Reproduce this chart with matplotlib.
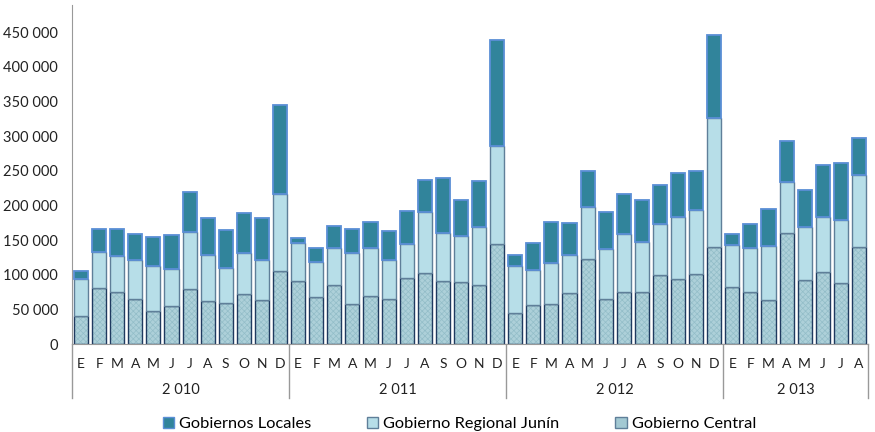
import numpy as np
import matplotlib.pyplot as plt
from matplotlib.patches import Patch

plt.rcParams['font.family'] = ['Lato', 'DejaVu Sans']
plt.rcParams['hatch.linewidth'] = 0.5

# Data
years = ['2 010', '2 011', '2 012', '2 013']
months_per_year = [12, 12, 12, 8]
month_letters = ['E', 'F', 'M', 'A', 'M', 'J', 'J', 'A', 'S', 'O', 'N', 'D']

central = [40.5, 81.4, 74.7, 65.0, 48.2, 54.4, 79.5, 62.6, 59.2, 72.7, 64.1, 106.0,
           91.0, 68.4, 85.3, 58.3, 68.9, 64.5, 95.9, 102.6, 90.6, 90.1, 85.7, 144.5,
           45.3, 56.4, 58.3, 74.2, 122.3, 64.5, 75.1, 74.7, 100.2, 93.4, 101.6, 140.2,
           81.9, 74.7, 63.6, 159.9, 92.5, 104.0, 88.2, 139.2]
regional_cum = [93.4, 132.0, 126.7, 121.0, 112.7, 108.4, 160.9, 128.1, 109.8, 131.5, 120.9, 215.8,
                146.4, 118.0, 138.2, 131.0, 138.2, 120.9, 144.5, 189.8, 159.4, 155.6, 168.6, 286.1,
                111.8, 106.5, 116.6, 128.6, 197.5, 136.8, 158.5, 147.4, 173.4, 182.6, 192.7, 326.1,
                142.1, 138.2, 141.6, 233.1, 168.1, 183.5, 178.2, 243.3]
total = [106.0, 165.7, 166.2, 158.0, 154.6, 156.6, 218.7, 181.1, 163.8, 188.3, 181.1, 344.4,
         152.2, 138.2, 170.0, 166.2, 175.8, 162.3, 191.2, 237.0, 239.4, 207.1, 234.6, 438.8,
         128.6, 145.5, 175.8, 173.9, 249.5, 189.8, 215.8, 207.1, 228.8, 246.1, 250.0, 445.1,
         158.5, 173.4, 194.6, 293.4, 222.5, 257.7, 260.6, 297.7]

central = np.array(central) * 1000
regional = np.array(regional_cum) * 1000 - central
locales = np.array(total) * 1000 - np.array(regional_cum) * 1000

n = len(central)
x = np.arange(n)
w = 0.78

fig = plt.figure(figsize=(8.75, 4.32), dpi=100)
ax = fig.add_axes([72 / 875, 1 - 344 / 432, (868 - 72) / 875, 339 / 432])

# Gobierno Central: subtle hatched fill, then dark outline
ax.bar(x, central, w, color='#ADD0D9', edgecolor='#93BDC8', hatch='xxxxxx', linewidth=0)
ax.bar(x, central, w, fill=False, edgecolor='#1F3A60', linewidth=1.0)
ax.bar(x, regional, w, bottom=central, color='#B7DEE8', edgecolor='#5F7F99', linewidth=1.0)
ax.bar(x, locales, w, bottom=central + regional, color='#31849B', edgecolor='#5B8FD6', linewidth=1.3)

ax.set_xlim(-0.5, n - 0.5)
ax.set_ylim(0, 489000)
ax.set_yticks(np.arange(0, 450001, 50000))
ax.set_yticklabels([f'{v:,}'.replace(',', ' ') for v in range(0, 450001, 50000)])
ax.tick_params(axis='y', length=0, labelsize=10.5, pad=10, colors='#222222')
ax.set_xticks([])

for s in ['top', 'right']:
    ax.spines[s].set_visible(False)
ax.spines['left'].set_color('#999999')
ax.spines['bottom'].set_color('#999999')

# Category labels (months + years)
trans = ax.get_xaxis_transform()
px = 1 / 339  # one pixel in axes-fraction
labels = []
for ny in months_per_year:
    labels += month_letters[:ny]
for i, lab in enumerate(labels):
    ax.text(i, -20 * px, lab, transform=trans, ha='center', va='center', fontsize=10, color='#222222')

start = 0
bounds = [-0.5]
for yr, ny in zip(years, months_per_year):
    ax.text(start + (ny - 1) / 2, -46 * px, yr, transform=trans, ha='center', va='center',
            fontsize=10.5, color='#222222')
    start += ny
    bounds.append(start - 0.5)
for b in bounds:
    ax.plot([b, b], [0, -54 * px], transform=trans, color='#999999', lw=1, clip_on=False)

handles = [Patch(facecolor='#31849B', edgecolor='#5B8FD6', label='Gobiernos Locales'),
           Patch(facecolor='#B7DEE8', edgecolor='#5F7F99', label='Gobierno Regional Junín'),
           Patch(facecolor='#A3C9D3', edgecolor='#5F7F99', label='Gobierno Central')]
fig.legend(handles=handles, loc='center', bbox_to_anchor=(0.525, 1 - 424 / 432), ncol=3,
           frameon=False, fontsize=11.8, handlelength=0.7, handleheight=0.7,
           handletextpad=0.3, columnspacing=3.4)

fig.savefig('out.png', dpi=100)
